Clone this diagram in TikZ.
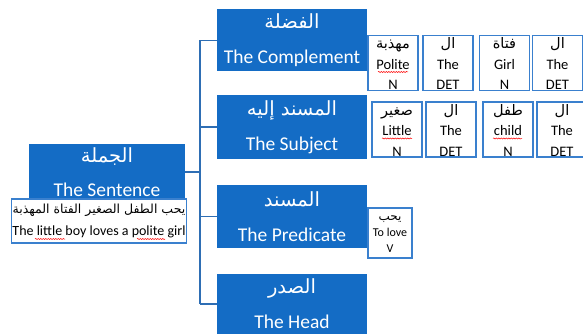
\documentclass[tikz,border=0pt]{standalone}
\usepackage{fontspec}
\setmainfont{Carlito}
\newfontfamily\arabicfont[Script=Arabic]{DejaVu Sans}
\TeXXeTstate=1
\usetikzlibrary{calc,decorations.pathmorphing}

\newcommand\artext[1]{{\arabicfont\beginR #1\endR}}

\definecolor{boxblue}{RGB}{20,108,197}
\definecolor{lineblue}{RGB}{46,110,180}
\definecolor{wordblue}{RGB}{58,128,206}

\tikzset{
  headbox/.style={fill=boxblue, text=white, minimum width=150pt, minimum height=62pt,
    align=center, inner sep=0pt, font=\fontsize{19.5}{35}\selectfont},
  wordbox/.style={draw=wordblue, line width=1.1pt, fill=white, minimum width=50pt,
    minimum height=52pt, text height=53pt, text depth=-3pt, align=center, inner sep=1pt,
    font=\fontsize{14.5}{20.5}\selectfont},
  link/.style={draw=lineblue, line width=1.5pt},
  spellwave/.style={draw=red, line width=0.5pt, decorate,
    decoration={snake, amplitude=0.6pt, segment length=2.5pt}},
}

\begin{document}
\begin{tikzpicture}[x=1pt, y=-1pt]
  \useasboundingbox (0,0) rectangle (583,334);
  \coordinate (trunk) at (200,0);

  % the sentence
  \node[headbox, minimum width=156pt, minimum height=57pt, font=\fontsize{19.5}{34}\selectfont]
    (sent) at (107,172) {\artext{الجملة}\\The Sentence};
  \node[draw=wordblue, line width=1.1pt, fill=white, minimum width=174pt, minimum height=44pt,
    inner sep=1pt, align=center, font=\fontsize{14}{22}\selectfont]
    (sentex) at (99,221) {{\fontsize{12.5}{22}\selectfont\artext{يحب الطفل الصغير الفتاة المهذبة}}\\
    The little boy loves a polite girl};

  % the parts
  \node[headbox] (comp) at (292,40.5) {\artext{الفضلة}\\The Complement};
  \node[headbox, minimum height=64pt] (subj) at (292,127) {\artext{المسند إليه}\\The Subject};
  \node[headbox, minimum height=63pt] (pred) at (292,216.5) {\artext{المسند}\\The Predicate};
  \node[headbox, minimum height=60pt] (head) at (292,304) {\artext{الصدر}\\The Head};

  \draw[link] (sent.east) -- (sent.east -| trunk);
  \draw[link] (trunk |- comp.west) -- (trunk |- head.west);
  \foreach \part in {comp,subj,pred,head}
    \draw[link] (trunk |- \part.west) -- (\part.west);

  % the words
  \node[wordbox] (cpolite) at (393,63) {\artext{مهذبة}\\Polite\\N};
  \node[wordbox] (cdeta) at (448,63) {\artext{ال}\\The\\DET};
  \node[wordbox] (cgirl) at (504.5,63) {\artext{فتاة}\\Girl\\N};
  \node[wordbox] (cdetb) at (557.5,63) {\artext{ال}\\The\\DET};

  \node[wordbox] (slittle) at (397,129.5) {\artext{صغير}\\Little\\N};
  \node[wordbox] (sdeta) at (451,129.5) {\artext{ال}\\The\\DET};
  \node[wordbox] (schild) at (508,129.5) {\artext{طفل}\\child\\N};
  \node[wordbox] (sdetb) at (562,129.5) {\artext{ال}\\The\\DET};

  \node[wordbox, minimum width=44pt, minimum height=50pt, text height=42pt, text depth=3pt,
    font=\fontsize{12}{16}\selectfont]
    (plove) at (390,233) {\artext{يحب}\\To love\\V};

  % spell-check marks
  \draw[spellwave] ($(cpolite.center)+(-15,9)$) -- ++(30,0);
  \draw[spellwave] ($(slittle.center)+(-15,9)$) -- ++(30,0);
  \draw[spellwave] ($(schild.center)+(-15,9)$) -- ++(29,0);
  \draw[spellwave] ($(sentex.center)+(-64,18)$) -- ++(30,0);
  \draw[spellwave] ($(sentex.center)+(38,18)$) -- ++(28,0);
\end{tikzpicture}
\end{document}
